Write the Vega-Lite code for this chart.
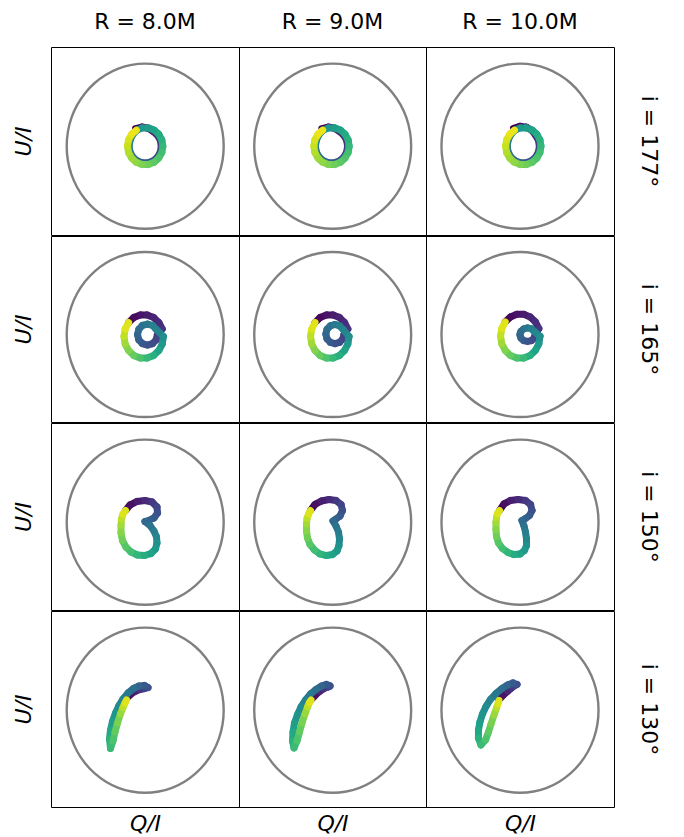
{
"$schema": "https://vega.github.io/schema/vega-lite/v6.json",
"background": "white",
"padding": {"left": 11, "top": 10, "right": 5, "bottom": 5},
"spacing": -1,
"config": {
  "font": "DejaVu Sans",
  "view": {"stroke": "black", "strokeWidth": 1},
  "axis": {"labels": false, "ticks": false, "domain": false, "grid": false, "titleFont": "DejaVu Sans", "titleFontSize": 22, "titleFontWeight": "normal", "titleColor": "black"},
  "title": {"font": "DejaVu Sans", "fontSize": 22, "fontWeight": "normal", "color": "black", "offset": 13},
  "line": {"color": "#808080", "strokeWidth": 2.4, "interpolate": "cardinal-closed"},
  "rule": {"strokeWidth": 7, "strokeCap": "round"}
},
"datasets": {
"circ": [{"i":0,"q":1,"u":0},{"i":1,"q":0.985,"u":0.174},{"i":2,"q":0.94,"u":0.342},{"i":3,"q":0.866,"u":0.5},{"i":4,"q":0.766,"u":0.643},{"i":5,"q":0.643,"u":0.766},{"i":6,"q":0.5,"u":0.866},{"i":7,"q":0.342,"u":0.94},{"i":8,"q":0.174,"u":0.985},{"i":9,"q":0,"u":1},{"i":10,"q":-0.174,"u":0.985},{"i":11,"q":-0.342,"u":0.94},{"i":12,"q":-0.5,"u":0.866},{"i":13,"q":-0.643,"u":0.766},{"i":14,"q":-0.766,"u":0.643},{"i":15,"q":-0.866,"u":0.5},{"i":16,"q":-0.94,"u":0.342},{"i":17,"q":-0.985,"u":0.174},{"i":18,"q":-1,"u":0},{"i":19,"q":-0.985,"u":-0.174},{"i":20,"q":-0.94,"u":-0.342},{"i":21,"q":-0.866,"u":-0.5},{"i":22,"q":-0.766,"u":-0.643},{"i":23,"q":-0.643,"u":-0.766},{"i":24,"q":-0.5,"u":-0.866},{"i":25,"q":-0.342,"u":-0.94},{"i":26,"q":-0.174,"u":-0.985},{"i":27,"q":0,"u":-1},{"i":28,"q":0.174,"u":-0.985},{"i":29,"q":0.342,"u":-0.94},{"i":30,"q":0.5,"u":-0.866},{"i":31,"q":0.643,"u":-0.766},{"i":32,"q":0.766,"u":-0.643},{"i":33,"q":0.866,"u":-0.5},{"i":34,"q":0.94,"u":-0.342},{"i":35,"q":0.985,"u":-0.174}],
"a1": [{"t":0,"q":-0.123,"u":0.212},{"t":0.028,"q":-0.041,"u":0.232},{"t":0.056,"q":0.038,"u":0.217},{"t":0.083,"q":0.103,"u":0.178},{"t":0.111,"q":0.157,"u":0.132},{"t":0.139,"q":0.193,"u":0.07},{"t":0.167,"q":0.205,"u":0},{"t":0.194,"q":0.193,"u":-0.07},{"t":0.222,"q":0.157,"u":-0.132},{"t":0.25,"q":0.103,"u":-0.178},{"t":0.278,"q":0.036,"u":-0.202},{"t":0.306,"q":-0.036,"u":-0.202},{"t":0.333,"q":-0.103,"u":-0.178},{"t":0.361,"q":-0.157,"u":-0.132},{"t":0.389,"q":-0.193,"u":-0.07},{"t":0.417,"q":-0.205,"u":0},{"t":0.444,"q":-0.193,"u":0.07},{"t":0.472,"q":-0.162,"u":0.136},{"t":0.5,"q":-0.11,"u":0.191},{"t":0.528,"q":-0.039,"u":0.222},{"t":0.556,"q":0.039,"u":0.222},{"t":0.583,"q":0.113,"u":0.195},{"t":0.611,"q":0.172,"u":0.145},{"t":0.639,"q":0.212,"u":0.077},{"t":0.667,"q":0.225,"u":0},{"t":0.694,"q":0.212,"u":-0.077},{"t":0.722,"q":0.172,"u":-0.145},{"t":0.75,"q":0.113,"u":-0.195},{"t":0.778,"q":0.039,"u":-0.222},{"t":0.806,"q":-0.039,"u":-0.222},{"t":0.833,"q":-0.113,"u":-0.195},{"t":0.861,"q":-0.172,"u":-0.145},{"t":0.889,"q":-0.212,"u":-0.077},{"t":0.917,"q":-0.225,"u":0},{"t":0.944,"q":-0.212,"u":0.077},{"t":0.972,"q":-0.172,"u":0.145},{"t":1,"q":-0.113,"u":0.195}],
"a2": [{"t":0,"q":-0.138,"u":0.212},{"t":0.028,"q":-0.056,"u":0.232},{"t":0.056,"q":0.023,"u":0.217},{"t":0.083,"q":0.088,"u":0.178},{"t":0.111,"q":0.142,"u":0.132},{"t":0.139,"q":0.178,"u":0.07},{"t":0.167,"q":0.19,"u":0},{"t":0.194,"q":0.178,"u":-0.07},{"t":0.222,"q":0.142,"u":-0.132},{"t":0.25,"q":0.088,"u":-0.178},{"t":0.278,"q":0.021,"u":-0.202},{"t":0.306,"q":-0.051,"u":-0.202},{"t":0.333,"q":-0.118,"u":-0.178},{"t":0.361,"q":-0.172,"u":-0.132},{"t":0.389,"q":-0.208,"u":-0.07},{"t":0.417,"q":-0.22,"u":0},{"t":0.444,"q":-0.208,"u":0.07},{"t":0.472,"q":-0.177,"u":0.136},{"t":0.5,"q":-0.125,"u":0.191},{"t":0.528,"q":-0.054,"u":0.222},{"t":0.556,"q":0.024,"u":0.222},{"t":0.583,"q":0.098,"u":0.195},{"t":0.611,"q":0.157,"u":0.145},{"t":0.639,"q":0.197,"u":0.077},{"t":0.667,"q":0.21,"u":0},{"t":0.694,"q":0.197,"u":-0.077},{"t":0.722,"q":0.157,"u":-0.145},{"t":0.75,"q":0.098,"u":-0.195},{"t":0.778,"q":0.024,"u":-0.222},{"t":0.806,"q":-0.054,"u":-0.222},{"t":0.833,"q":-0.128,"u":-0.195},{"t":0.861,"q":-0.187,"u":-0.145},{"t":0.889,"q":-0.227,"u":-0.077},{"t":0.917,"q":-0.24,"u":0},{"t":0.944,"q":-0.227,"u":0.077},{"t":0.972,"q":-0.187,"u":0.145},{"t":1,"q":-0.128,"u":0.195}],
"a3": [{"t":0,"q":-0.083,"u":0.217},{"t":0.028,"q":-0.001,"u":0.241},{"t":0.056,"q":0.083,"u":0.231},{"t":0.083,"q":0.152,"u":0.191},{"t":0.111,"q":0.199,"u":0.132},{"t":0.139,"q":0.235,"u":0.07},{"t":0.167,"q":0.247,"u":0},{"t":0.194,"q":0.235,"u":-0.07},{"t":0.222,"q":0.199,"u":-0.132},{"t":0.25,"q":0.145,"u":-0.178},{"t":0.278,"q":0.078,"u":-0.202},{"t":0.306,"q":0.006,"u":-0.202},{"t":0.333,"q":-0.061,"u":-0.178},{"t":0.361,"q":-0.115,"u":-0.132},{"t":0.389,"q":-0.151,"u":-0.07},{"t":0.417,"q":-0.163,"u":0},{"t":0.444,"q":-0.151,"u":0.07},{"t":0.472,"q":-0.12,"u":0.136},{"t":0.5,"q":-0.068,"u":0.191},{"t":0.528,"q":0.003,"u":0.222},{"t":0.556,"q":0.081,"u":0.222},{"t":0.583,"q":0.155,"u":0.195},{"t":0.611,"q":0.214,"u":0.145},{"t":0.639,"q":0.254,"u":0.077},{"t":0.667,"q":0.267,"u":0},{"t":0.694,"q":0.254,"u":-0.077},{"t":0.722,"q":0.214,"u":-0.145},{"t":0.75,"q":0.155,"u":-0.195},{"t":0.778,"q":0.081,"u":-0.222},{"t":0.806,"q":0.003,"u":-0.222},{"t":0.833,"q":-0.071,"u":-0.195},{"t":0.861,"q":-0.13,"u":-0.145},{"t":0.889,"q":-0.17,"u":-0.077},{"t":0.917,"q":-0.183,"u":0},{"t":0.944,"q":-0.17,"u":0.077},{"t":0.972,"q":-0.13,"u":0.145},{"t":1,"q":-0.071,"u":0.195}],
"b1": [{"t":0,"q":-0.211,"u":0.146},{"t":0.025,"q":-0.145,"u":0.206},{"t":0.05,"q":-0.063,"u":0.237},{"t":0.075,"q":0.025,"u":0.237},{"t":0.1,"q":0.107,"u":0.206},{"t":0.125,"q":0.173,"u":0.146},{"t":0.15,"q":0.217,"u":0.067},{"t":0.175,"q":0.156,"u":0},{"t":0.2,"q":0.139,"u":-0.064},{"t":0.225,"q":0.093,"u":-0.11},{"t":0.25,"q":0.029,"u":-0.127},{"t":0.275,"q":-0.035,"u":-0.11},{"t":0.3,"q":-0.081,"u":-0.064},{"t":0.325,"q":-0.098,"u":0},{"t":0.35,"q":-0.081,"u":0.064},{"t":0.375,"q":-0.035,"u":0.11},{"t":0.4,"q":0.029,"u":0.127},{"t":0.425,"q":0.093,"u":0.11},{"t":0.45,"q":0.139,"u":0.064},{"t":0.49,"q":0.232,"u":-0.024},{"t":0.536,"q":0.217,"u":-0.115},{"t":0.583,"q":0.173,"u":-0.194},{"t":0.629,"q":0.107,"u":-0.254},{"t":0.675,"q":0.025,"u":-0.285},{"t":0.722,"q":-0.063,"u":-0.285},{"t":0.768,"q":-0.145,"u":-0.254},{"t":0.814,"q":-0.211,"u":-0.194},{"t":0.861,"q":-0.255,"u":-0.115},{"t":0.907,"q":-0.27,"u":-0.024},{"t":0.954,"q":-0.255,"u":0.067},{"t":1,"q":-0.211,"u":0.146}],
"b2": [{"t":0,"q":-0.225,"u":0.146},{"t":0.025,"q":-0.16,"u":0.206},{"t":0.05,"q":-0.08,"u":0.237},{"t":0.075,"q":0.006,"u":0.237},{"t":0.1,"q":0.086,"u":0.206},{"t":0.125,"q":0.151,"u":0.146},{"t":0.15,"q":0.193,"u":0.067},{"t":0.175,"q":0.145,"u":0.006},{"t":0.2,"q":0.13,"u":-0.052},{"t":0.225,"q":0.087,"u":-0.095},{"t":0.25,"q":0.029,"u":-0.11},{"t":0.275,"q":-0.029,"u":-0.095},{"t":0.3,"q":-0.072,"u":-0.052},{"t":0.325,"q":-0.087,"u":0.006},{"t":0.35,"q":-0.072,"u":0.064},{"t":0.375,"q":-0.029,"u":0.106},{"t":0.4,"q":0.029,"u":0.122},{"t":0.425,"q":0.087,"u":0.106},{"t":0.45,"q":0.13,"u":0.064},{"t":0.49,"q":0.208,"u":-0.024},{"t":0.536,"q":0.193,"u":-0.115},{"t":0.583,"q":0.151,"u":-0.194},{"t":0.629,"q":0.086,"u":-0.254},{"t":0.675,"q":0.006,"u":-0.285},{"t":0.722,"q":-0.08,"u":-0.285},{"t":0.768,"q":-0.16,"u":-0.254},{"t":0.814,"q":-0.225,"u":-0.194},{"t":0.861,"q":-0.267,"u":-0.115},{"t":0.907,"q":-0.282,"u":-0.024},{"t":0.954,"q":-0.267,"u":0.067},{"t":1,"q":-0.225,"u":0.146}],
"b3": [{"t":0,"q":-0.188,"u":0.153},{"t":0.025,"q":-0.122,"u":0.213},{"t":0.05,"q":-0.04,"u":0.245},{"t":0.075,"q":0.048,"u":0.245},{"t":0.1,"q":0.13,"u":0.213},{"t":0.125,"q":0.196,"u":0.153},{"t":0.15,"q":0.24,"u":0.072},{"t":0.175,"q":0.193,"u":-0.002},{"t":0.2,"q":0.18,"u":-0.043},{"t":0.225,"q":0.145,"u":-0.073},{"t":0.25,"q":0.096,"u":-0.084},{"t":0.275,"q":0.048,"u":-0.073},{"t":0.3,"q":0.012,"u":-0.043},{"t":0.325,"q":-0.001,"u":-0.002},{"t":0.35,"q":0.012,"u":0.039},{"t":0.375,"q":0.048,"u":0.069},{"t":0.4,"q":0.096,"u":0.08},{"t":0.425,"q":0.145,"u":0.069},{"t":0.45,"q":0.18,"u":0.039},{"t":0.49,"q":0.255,"u":-0.02},{"t":0.536,"q":0.24,"u":-0.112},{"t":0.583,"q":0.196,"u":-0.193},{"t":0.629,"q":0.13,"u":-0.253},{"t":0.675,"q":0.048,"u":-0.285},{"t":0.722,"q":-0.04,"u":-0.285},{"t":0.768,"q":-0.122,"u":-0.253},{"t":0.814,"q":-0.188,"u":-0.193},{"t":0.861,"q":-0.232,"u":-0.112},{"t":0.907,"q":-0.247,"u":-0.02},{"t":0.954,"q":-0.232,"u":0.072},{"t":1,"q":-0.188,"u":0.153}],
"c1": [{"t":0,"q":-0.251,"u":0.142},{"t":0.04,"q":-0.194,"u":0.208},{"t":0.08,"q":-0.104,"u":0.251},{"t":0.12,"q":-0.003,"u":0.263},{"t":0.16,"q":0.087,"u":0.245},{"t":0.2,"q":0.15,"u":0.184},{"t":0.24,"q":0.157,"u":0.112},{"t":0.28,"q":0.112,"u":0.051},{"t":0.31,"q":0.048,"u":0.021},{"t":0.34,"q":-0.003,"u":0.008},{"t":0.38,"q":0.061,"u":-0.04},{"t":0.42,"q":0.112,"u":-0.107},{"t":0.46,"q":0.144,"u":-0.179},{"t":0.5,"q":0.15,"u":-0.252},{"t":0.54,"q":0.131,"u":-0.325},{"t":0.58,"q":0.074,"u":-0.379},{"t":0.62,"q":-0.009,"u":-0.404},{"t":0.66,"q":-0.098,"u":-0.398},{"t":0.7,"q":-0.181,"u":-0.361},{"t":0.74,"q":-0.245,"u":-0.301},{"t":0.78,"q":-0.289,"u":-0.222},{"t":0.82,"q":-0.308,"u":-0.131},{"t":0.86,"q":-0.308,"u":-0.04},{"t":0.9,"q":-0.302,"u":0.039},{"t":0.95,"q":-0.283,"u":0.099},{"t":1,"q":-0.251,"u":0.142}],
"c2": [{"t":0,"q":-0.283,"u":0.142},{"t":0.04,"q":-0.225,"u":0.215},{"t":0.08,"q":-0.143,"u":0.257},{"t":0.12,"q":-0.047,"u":0.275},{"t":0.16,"q":0.042,"u":0.263},{"t":0.2,"q":0.106,"u":0.215},{"t":0.24,"q":0.125,"u":0.142},{"t":0.28,"q":0.093,"u":0.075},{"t":0.31,"q":0.042,"u":0.039},{"t":0.34,"q":0.004,"u":0.015},{"t":0.38,"q":0.042,"u":-0.046},{"t":0.42,"q":0.074,"u":-0.119},{"t":0.46,"q":0.087,"u":-0.204},{"t":0.5,"q":0.08,"u":-0.282},{"t":0.54,"q":0.055,"u":-0.349},{"t":0.58,"q":-0.003,"u":-0.392},{"t":0.62,"q":-0.079,"u":-0.404},{"t":0.66,"q":-0.162,"u":-0.385},{"t":0.7,"q":-0.232,"u":-0.337},{"t":0.74,"q":-0.289,"u":-0.27},{"t":0.78,"q":-0.321,"u":-0.192},{"t":0.82,"q":-0.334,"u":-0.107},{"t":0.86,"q":-0.334,"u":-0.022},{"t":0.9,"q":-0.327,"u":0.045},{"t":0.95,"q":-0.308,"u":0.099},{"t":1,"q":-0.283,"u":0.142}],
"c3": [{"t":0,"q":-0.261,"u":0.142},{"t":0.04,"q":-0.204,"u":0.221},{"t":0.08,"q":-0.121,"u":0.263},{"t":0.12,"q":-0.025,"u":0.275},{"t":0.16,"q":0.07,"u":0.263},{"t":0.2,"q":0.134,"u":0.215},{"t":0.24,"q":0.153,"u":0.142},{"t":0.28,"q":0.121,"u":0.081},{"t":0.31,"q":0.07,"u":0.045},{"t":0.34,"q":0.025,"u":0.021},{"t":0.38,"q":0.051,"u":-0.046},{"t":0.42,"q":0.07,"u":-0.119},{"t":0.46,"q":0.083,"u":-0.204},{"t":0.5,"q":0.083,"u":-0.282},{"t":0.54,"q":0.057,"u":-0.343},{"t":0.58,"q":0,"u":-0.385},{"t":0.62,"q":-0.076,"u":-0.392},{"t":0.66,"q":-0.153,"u":-0.367},{"t":0.7,"q":-0.223,"u":-0.319},{"t":0.74,"q":-0.274,"u":-0.252},{"t":0.78,"q":-0.299,"u":-0.173},{"t":0.82,"q":-0.306,"u":-0.088},{"t":0.86,"q":-0.306,"u":-0.004},{"t":0.9,"q":-0.299,"u":0.057},{"t":0.95,"q":-0.287,"u":0.105},{"t":1,"q":-0.261,"u":0.142}],
"d1": [{"t":0,"q":-0.257,"u":0.124},{"t":0.05,"q":-0.194,"u":0.184},{"t":0.1,"q":-0.13,"u":0.227},{"t":0.15,"q":-0.066,"u":0.251},{"t":0.2,"q":-0.003,"u":0.263},{"t":0.24,"q":0.036,"u":0.275},{"t":0.28,"q":-0.009,"u":0.299},{"t":0.32,"q":-0.079,"u":0.293},{"t":0.36,"q":-0.149,"u":0.263},{"t":0.4,"q":-0.219,"u":0.208},{"t":0.44,"q":-0.283,"u":0.136},{"t":0.48,"q":-0.334,"u":0.057},{"t":0.52,"q":-0.378,"u":-0.034},{"t":0.56,"q":-0.417,"u":-0.137},{"t":0.6,"q":-0.442,"u":-0.24},{"t":0.64,"q":-0.455,"u":-0.349},{"t":0.68,"q":-0.442,"u":-0.464},{"t":0.72,"q":-0.41,"u":-0.373},{"t":0.76,"q":-0.385,"u":-0.264},{"t":0.8,"q":-0.353,"u":-0.155},{"t":0.85,"q":-0.315,"u":-0.046},{"t":0.9,"q":-0.283,"u":0.033},{"t":0.95,"q":-0.257,"u":0.087},{"t":1,"q":-0.238,"u":0.124}],
"d2": [{"t":0,"q":-0.283,"u":0.118},{"t":0.05,"q":-0.225,"u":0.178},{"t":0.1,"q":-0.168,"u":0.227},{"t":0.15,"q":-0.111,"u":0.263},{"t":0.2,"q":-0.06,"u":0.281},{"t":0.24,"q":-0.034,"u":0.293},{"t":0.28,"q":-0.079,"u":0.312},{"t":0.32,"q":-0.143,"u":0.293},{"t":0.36,"q":-0.213,"u":0.251},{"t":0.4,"q":-0.283,"u":0.196},{"t":0.44,"q":-0.346,"u":0.124},{"t":0.48,"q":-0.404,"u":0.039},{"t":0.52,"q":-0.448,"u":-0.052},{"t":0.56,"q":-0.487,"u":-0.155},{"t":0.6,"q":-0.506,"u":-0.264},{"t":0.64,"q":-0.512,"u":-0.373},{"t":0.68,"q":-0.493,"u":-0.458},{"t":0.72,"q":-0.455,"u":-0.373},{"t":0.76,"q":-0.423,"u":-0.264},{"t":0.8,"q":-0.391,"u":-0.155},{"t":0.85,"q":-0.353,"u":-0.046},{"t":0.9,"q":-0.321,"u":0.039},{"t":0.95,"q":-0.296,"u":0.093},{"t":1,"q":-0.276,"u":0.124}],
"d3": [{"t":0,"q":-0.268,"u":0.124},{"t":0.05,"q":-0.217,"u":0.178},{"t":0.1,"q":-0.159,"u":0.227},{"t":0.15,"q":-0.108,"u":0.269},{"t":0.2,"q":-0.064,"u":0.299},{"t":0.24,"q":-0.038,"u":0.312},{"t":0.28,"q":-0.089,"u":0.33},{"t":0.32,"q":-0.159,"u":0.305},{"t":0.36,"q":-0.229,"u":0.263},{"t":0.4,"q":-0.306,"u":0.202},{"t":0.44,"q":-0.376,"u":0.13},{"t":0.48,"q":-0.433,"u":0.045},{"t":0.52,"q":-0.478,"u":-0.046},{"t":0.56,"q":-0.51,"u":-0.143},{"t":0.6,"q":-0.529,"u":-0.24},{"t":0.64,"q":-0.529,"u":-0.337},{"t":0.68,"q":-0.497,"u":-0.422},{"t":0.72,"q":-0.439,"u":-0.361},{"t":0.76,"q":-0.401,"u":-0.264},{"t":0.8,"q":-0.369,"u":-0.167},{"t":0.85,"q":-0.331,"u":-0.058},{"t":0.9,"q":-0.299,"u":0.027},{"t":0.95,"q":-0.28,"u":0.081},{"t":1,"q":-0.268,"u":0.118}]
},
"vconcat": [
 {"spacing": 0, "bounds": "flush", "hconcat": [
  {"width": 188, "height": 188, "title": "R = 8.0M",
   "encoding": {"x": {"field": "q", "type": "quantitative", "scale": {"domain": [-1.2, 1.195], "nice": false, "zero": false}, "axis": null},
                "y": {"field": "u", "type": "quantitative", "scale": {"domain": [-1.076, 1.202], "nice": false, "zero": false}, "axis": {"title": "U/I", "titleFontStyle": "italic", "titlePadding": 16}}},
   "layer": [
    {"data": {"name": "circ"}, "mark": "line", "encoding": {"order": {"field": "i", "type": "quantitative"}}},
    {"data": {"name": "a1"}, "transform": [{"window": [{"op": "lead", "field": "q", "as": "q2"}, {"op": "lead", "field": "u", "as": "u2"}], "sort": [{"field": "t"}]}, {"filter": "isValid(datum.q2)"}],
     "mark": "rule", "encoding": {"x2": {"field": "q2"}, "y2": {"field": "u2"}, "color": {"field": "t", "type": "quantitative", "scale": {"scheme": "viridis", "domain": [0, 1]}, "legend": null}, "order": {"field": "t", "type": "quantitative"}}}
   ]},
  {"width": 187, "height": 188, "title": "R = 9.0M",
   "encoding": {"x": {"field": "q", "type": "quantitative", "scale": {"domain": [-1.194, 1.189], "nice": false, "zero": false}, "axis": null},
                "y": {"field": "u", "type": "quantitative", "scale": {"domain": [-1.076, 1.202], "nice": false, "zero": false}, "axis": null}},
   "layer": [
    {"data": {"name": "circ"}, "mark": "line", "encoding": {"order": {"field": "i", "type": "quantitative"}}},
    {"data": {"name": "a2"}, "transform": [{"window": [{"op": "lead", "field": "q", "as": "q2"}, {"op": "lead", "field": "u", "as": "u2"}], "sort": [{"field": "t"}]}, {"filter": "isValid(datum.q2)"}],
     "mark": "rule", "encoding": {"x2": {"field": "q2"}, "y2": {"field": "u2"}, "color": {"field": "t", "type": "quantitative", "scale": {"scheme": "viridis", "domain": [0, 1]}, "legend": null}, "order": {"field": "t", "type": "quantitative"}}}
   ]},
  {"width": 188, "height": 188, "title": "R = 10.0M",
   "encoding": {"x": {"field": "q", "type": "quantitative", "scale": {"domain": [-1.197, 1.197], "nice": false, "zero": false}, "axis": null},
                "y": {"field": "u", "type": "quantitative", "scale": {"domain": [-1.076, 1.202], "nice": false, "zero": false}, "axis": {"orient": "right", "title": "i = 177°", "titleAngle": 90, "titlePadding": 22}}},
   "layer": [
    {"data": {"name": "circ"}, "mark": "line", "encoding": {"order": {"field": "i", "type": "quantitative"}}},
    {"data": {"name": "a3"}, "transform": [{"window": [{"op": "lead", "field": "q", "as": "q2"}, {"op": "lead", "field": "u", "as": "u2"}], "sort": [{"field": "t"}]}, {"filter": "isValid(datum.q2)"}],
     "mark": "rule", "encoding": {"x2": {"field": "q2"}, "y2": {"field": "u2"}, "color": {"field": "t", "type": "quantitative", "scale": {"scheme": "viridis", "domain": [0, 1]}, "legend": null}, "order": {"field": "t", "type": "quantitative"}}}
   ]}
 ]},
 {"spacing": 0, "bounds": "flush", "hconcat": [
  {"width": 188, "height": 186,
   "encoding": {"x": {"field": "q", "type": "quantitative", "scale": {"domain": [-1.2, 1.195], "nice": false, "zero": false}, "axis": null},
                "y": {"field": "u", "type": "quantitative", "scale": {"domain": [-1.06, 1.194], "nice": false, "zero": false}, "axis": {"title": "U/I", "titleFontStyle": "italic", "titlePadding": 16}}},
   "layer": [
    {"data": {"name": "circ"}, "mark": "line", "encoding": {"order": {"field": "i", "type": "quantitative"}}},
    {"data": {"name": "b1"}, "transform": [{"window": [{"op": "lead", "field": "q", "as": "q2"}, {"op": "lead", "field": "u", "as": "u2"}], "sort": [{"field": "t"}]}, {"filter": "isValid(datum.q2)"}],
     "mark": "rule", "encoding": {"x2": {"field": "q2"}, "y2": {"field": "u2"}, "color": {"field": "t", "type": "quantitative", "scale": {"scheme": "viridis", "domain": [0, 1]}, "legend": null}, "order": {"field": "t", "type": "quantitative"}}}
   ]},
  {"width": 187, "height": 186,
   "encoding": {"x": {"field": "q", "type": "quantitative", "scale": {"domain": [-1.194, 1.189], "nice": false, "zero": false}, "axis": null},
                "y": {"field": "u", "type": "quantitative", "scale": {"domain": [-1.06, 1.194], "nice": false, "zero": false}, "axis": null}},
   "layer": [
    {"data": {"name": "circ"}, "mark": "line", "encoding": {"order": {"field": "i", "type": "quantitative"}}},
    {"data": {"name": "b2"}, "transform": [{"window": [{"op": "lead", "field": "q", "as": "q2"}, {"op": "lead", "field": "u", "as": "u2"}], "sort": [{"field": "t"}]}, {"filter": "isValid(datum.q2)"}],
     "mark": "rule", "encoding": {"x2": {"field": "q2"}, "y2": {"field": "u2"}, "color": {"field": "t", "type": "quantitative", "scale": {"scheme": "viridis", "domain": [0, 1]}, "legend": null}, "order": {"field": "t", "type": "quantitative"}}}
   ]},
  {"width": 188, "height": 186,
   "encoding": {"x": {"field": "q", "type": "quantitative", "scale": {"domain": [-1.197, 1.197], "nice": false, "zero": false}, "axis": null},
                "y": {"field": "u", "type": "quantitative", "scale": {"domain": [-1.06, 1.194], "nice": false, "zero": false}, "axis": {"orient": "right", "title": "i = 165°", "titleAngle": 90, "titlePadding": 22}}},
   "layer": [
    {"data": {"name": "circ"}, "mark": "line", "encoding": {"order": {"field": "i", "type": "quantitative"}}},
    {"data": {"name": "b3"}, "transform": [{"window": [{"op": "lead", "field": "q", "as": "q2"}, {"op": "lead", "field": "u", "as": "u2"}], "sort": [{"field": "t"}]}, {"filter": "isValid(datum.q2)"}],
     "mark": "rule", "encoding": {"x2": {"field": "q2"}, "y2": {"field": "u2"}, "color": {"field": "t", "type": "quantitative", "scale": {"scheme": "viridis", "domain": [0, 1]}, "legend": null}, "order": {"field": "t", "type": "quantitative"}}}
   ]}
 ]},
 {"spacing": 0, "bounds": "flush", "hconcat": [
  {"width": 188, "height": 187,
   "encoding": {"x": {"field": "q", "type": "quantitative", "scale": {"domain": [-1.2, 1.195], "nice": false, "zero": false}, "axis": null},
                "y": {"field": "u", "type": "quantitative", "scale": {"domain": [-1.064, 1.202], "nice": false, "zero": false}, "axis": {"title": "U/I", "titleFontStyle": "italic", "titlePadding": 16}}},
   "layer": [
    {"data": {"name": "circ"}, "mark": "line", "encoding": {"order": {"field": "i", "type": "quantitative"}}},
    {"data": {"name": "c1"}, "transform": [{"window": [{"op": "lead", "field": "q", "as": "q2"}, {"op": "lead", "field": "u", "as": "u2"}], "sort": [{"field": "t"}]}, {"filter": "isValid(datum.q2)"}],
     "mark": "rule", "encoding": {"x2": {"field": "q2"}, "y2": {"field": "u2"}, "color": {"field": "t", "type": "quantitative", "scale": {"scheme": "viridis", "domain": [0, 1]}, "legend": null}, "order": {"field": "t", "type": "quantitative"}}}
   ]},
  {"width": 187, "height": 187,
   "encoding": {"x": {"field": "q", "type": "quantitative", "scale": {"domain": [-1.194, 1.189], "nice": false, "zero": false}, "axis": null},
                "y": {"field": "u", "type": "quantitative", "scale": {"domain": [-1.064, 1.202], "nice": false, "zero": false}, "axis": null}},
   "layer": [
    {"data": {"name": "circ"}, "mark": "line", "encoding": {"order": {"field": "i", "type": "quantitative"}}},
    {"data": {"name": "c2"}, "transform": [{"window": [{"op": "lead", "field": "q", "as": "q2"}, {"op": "lead", "field": "u", "as": "u2"}], "sort": [{"field": "t"}]}, {"filter": "isValid(datum.q2)"}],
     "mark": "rule", "encoding": {"x2": {"field": "q2"}, "y2": {"field": "u2"}, "color": {"field": "t", "type": "quantitative", "scale": {"scheme": "viridis", "domain": [0, 1]}, "legend": null}, "order": {"field": "t", "type": "quantitative"}}}
   ]},
  {"width": 188, "height": 187,
   "encoding": {"x": {"field": "q", "type": "quantitative", "scale": {"domain": [-1.197, 1.197], "nice": false, "zero": false}, "axis": null},
                "y": {"field": "u", "type": "quantitative", "scale": {"domain": [-1.064, 1.202], "nice": false, "zero": false}, "axis": {"orient": "right", "title": "i = 150°", "titleAngle": 90, "titlePadding": 22}}},
   "layer": [
    {"data": {"name": "circ"}, "mark": "line", "encoding": {"order": {"field": "i", "type": "quantitative"}}},
    {"data": {"name": "c3"}, "transform": [{"window": [{"op": "lead", "field": "q", "as": "q2"}, {"op": "lead", "field": "u", "as": "u2"}], "sort": [{"field": "t"}]}, {"filter": "isValid(datum.q2)"}],
     "mark": "rule", "encoding": {"x2": {"field": "q2"}, "y2": {"field": "u2"}, "color": {"field": "t", "type": "quantitative", "scale": {"scheme": "viridis", "domain": [0, 1]}, "legend": null}, "order": {"field": "t", "type": "quantitative"}}}
   ]}
 ]},
 {"spacing": 0, "bounds": "flush", "hconcat": [
  {"width": 188, "height": 196,
   "encoding": {"x": {"field": "q", "type": "quantitative", "scale": {"domain": [-1.2, 1.195], "nice": false, "zero": false}, "axis": {"title": "Q/I", "titleFontStyle": "italic", "titlePadding": 6}},
                "y": {"field": "u", "type": "quantitative", "scale": {"domain": [-1.173, 1.202], "nice": false, "zero": false}, "axis": {"title": "U/I", "titleFontStyle": "italic", "titlePadding": 16}}},
   "layer": [
    {"data": {"name": "circ"}, "mark": "line", "encoding": {"order": {"field": "i", "type": "quantitative"}}},
    {"data": {"name": "d1"}, "transform": [{"window": [{"op": "lead", "field": "q", "as": "q2"}, {"op": "lead", "field": "u", "as": "u2"}], "sort": [{"field": "t"}]}, {"filter": "isValid(datum.q2)"}],
     "mark": "rule", "encoding": {"x2": {"field": "q2"}, "y2": {"field": "u2"}, "color": {"field": "t", "type": "quantitative", "scale": {"scheme": "viridis", "domain": [0, 1]}, "legend": null}, "order": {"field": "t", "type": "quantitative"}}}
   ]},
  {"width": 187, "height": 196,
   "encoding": {"x": {"field": "q", "type": "quantitative", "scale": {"domain": [-1.194, 1.189], "nice": false, "zero": false}, "axis": {"title": "Q/I", "titleFontStyle": "italic", "titlePadding": 6}},
                "y": {"field": "u", "type": "quantitative", "scale": {"domain": [-1.173, 1.202], "nice": false, "zero": false}, "axis": null}},
   "layer": [
    {"data": {"name": "circ"}, "mark": "line", "encoding": {"order": {"field": "i", "type": "quantitative"}}},
    {"data": {"name": "d2"}, "transform": [{"window": [{"op": "lead", "field": "q", "as": "q2"}, {"op": "lead", "field": "u", "as": "u2"}], "sort": [{"field": "t"}]}, {"filter": "isValid(datum.q2)"}],
     "mark": "rule", "encoding": {"x2": {"field": "q2"}, "y2": {"field": "u2"}, "color": {"field": "t", "type": "quantitative", "scale": {"scheme": "viridis", "domain": [0, 1]}, "legend": null}, "order": {"field": "t", "type": "quantitative"}}}
   ]},
  {"width": 188, "height": 196,
   "encoding": {"x": {"field": "q", "type": "quantitative", "scale": {"domain": [-1.197, 1.197], "nice": false, "zero": false}, "axis": {"title": "Q/I", "titleFontStyle": "italic", "titlePadding": 6}},
                "y": {"field": "u", "type": "quantitative", "scale": {"domain": [-1.173, 1.202], "nice": false, "zero": false}, "axis": {"orient": "right", "title": "i = 130°", "titleAngle": 90, "titlePadding": 22}}},
   "layer": [
    {"data": {"name": "circ"}, "mark": "line", "encoding": {"order": {"field": "i", "type": "quantitative"}}},
    {"data": {"name": "d3"}, "transform": [{"window": [{"op": "lead", "field": "q", "as": "q2"}, {"op": "lead", "field": "u", "as": "u2"}], "sort": [{"field": "t"}]}, {"filter": "isValid(datum.q2)"}],
     "mark": "rule", "encoding": {"x2": {"field": "q2"}, "y2": {"field": "u2"}, "color": {"field": "t", "type": "quantitative", "scale": {"scheme": "viridis", "domain": [0, 1]}, "legend": null}, "order": {"field": "t", "type": "quantitative"}}}
   ]}
 ]}
]
}
